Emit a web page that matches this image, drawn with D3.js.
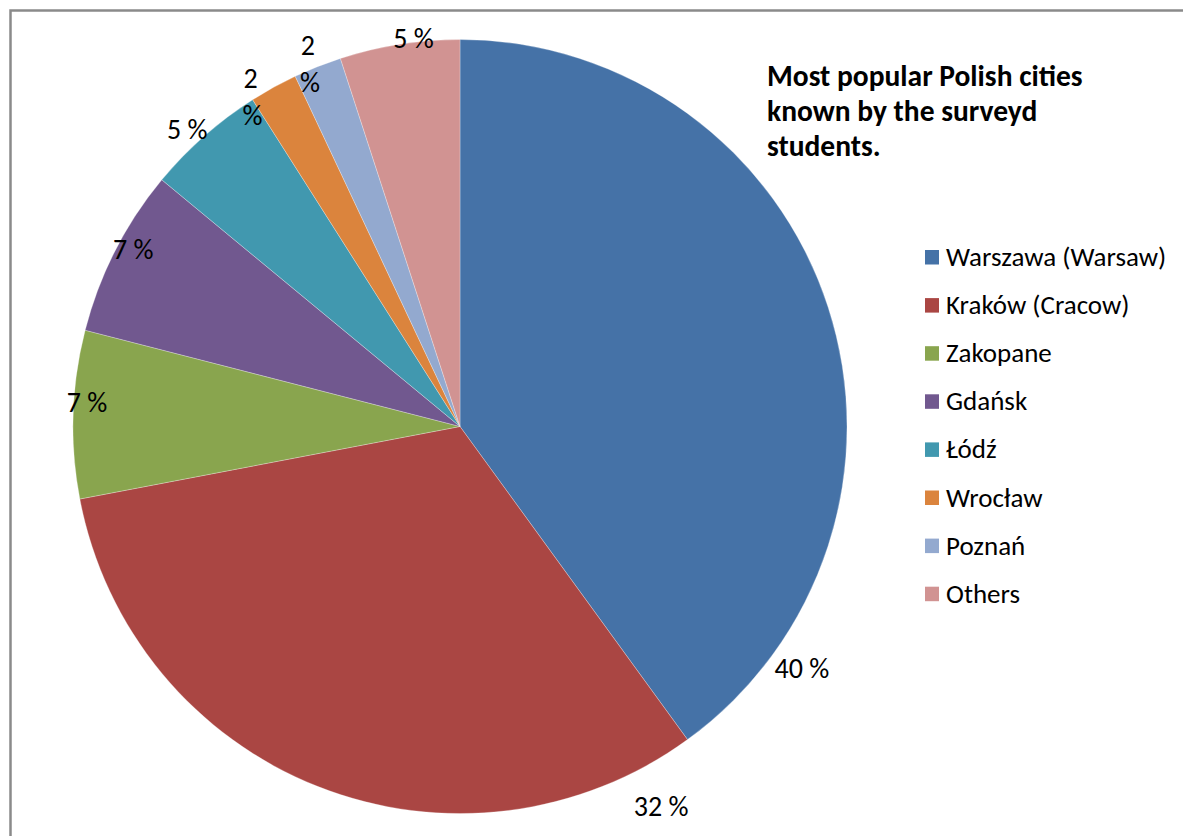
<!DOCTYPE html>
<html>
<head>
<meta charset="utf-8">
<script src="https://cdn.jsdelivr.net/npm/d3@7/dist/d3.min.js"></script>
<style>
  html, body { margin: 0; padding: 0; background: #fff; }
  svg { display: block; }
  text { font-family: Carlito, Lato, "Open Sans", sans-serif; fill: #000; }
</style>
</head>
<body>
<svg id="chart" width="1183" height="836"></svg>
<script>
// Survey results: share of students who named each Polish city
const cities = ["Warszawa (Warsaw)", "Kraków (Cracow)", "Zakopane", "Gdańsk", "Łódź", "Wrocław", "Poznań", "Others"];
const shares = [40, 32, 7, 7, 5, 2, 2, 5];
const colors = ["#4572A7", "#AA4643", "#89A54E", "#71588F", "#4198AF", "#DB843D", "#93A9CF", "#D19392"];
const titleLines = ["Most popular Polish cities", "known by the surveyd", "students."];

// Where each percentage label sits: fraction along its slice's angle, and radius factor
const labelAlong = [0.87, 0.07, 0.58, 0.56, 0.44, 0.0, 0.34, 0.62];
const labelRadius = [1.082, 1.109, 0.966, 0.961, 1.044, 1.01, 1.016, 1.011];

const svg = d3.select("#chart");
const W = 1183, H = 836;
const cx = 460, cy = 426.5, R = 387;

// Chart frame
svg.append("rect")
  .attr("x", 10.5).attr("y", 10.5)
  .attr("width", W + 20).attr("height", H + 20)
  .attr("fill", "#fff")
  .attr("stroke", "#8a8a8a")
  .attr("stroke-width", 2.5);

const color = d3.scaleOrdinal().domain(cities).range(colors);

const pie = d3.pie().sort(null).value(d => d.value);
const data = cities.map((c, i) => ({ city: c, value: shares[i], i }));
const arcs = pie(data);
const arc = d3.arc().innerRadius(0).outerRadius(R);

const g = svg.append("g").attr("transform", `translate(${cx},${cy})`);

g.selectAll("path.slice")
  .data(arcs)
  .join("path")
  .attr("class", "slice")
  .attr("d", arc)
  .attr("fill", d => color(d.data.city))
  .attr("stroke", "#ffffff")
  .attr("stroke-opacity", 0.35)
  .attr("stroke-width", 0.8);

// Percentage labels
const labelFs = 28;
const labels = g.selectAll("text.pct")
  .data(arcs)
  .join("text")
  .attr("class", "pct")
  .attr("text-anchor", "middle")
  .style("font-size", labelFs + "px")
  .attr("transform", d => {
    const i = d.data.i;
    const a = d.startAngle + (d.endAngle - d.startAngle) * labelAlong[i];
    const r = R * labelRadius[i];
    return `translate(${r * Math.sin(a)},${-r * Math.cos(a)})`;
  });

labels.each(function(d) {
  const t = d3.select(this);
  const v = d.data.value;
  if (v <= 2) {
    // narrow slices: value and sign on separate lines
    t.append("tspan").attr("x", 0).attr("y", -18.5 + 0.36 * labelFs).text(v);
    t.append("tspan").attr("x", 2).attr("y", 18.5 + 0.36 * labelFs).text("%");
  } else {
    t.append("tspan").attr("x", 0).attr("y", 0.36 * labelFs).text(v + " %");
  }
});

// Title
const title = svg.append("text")
  .attr("x", 768)
  .style("font-size", "29.5px")
  .style("font-weight", "bold");
titleLines.forEach((line, k) => {
  title.append("tspan").attr("x", 767).attr("y", 86 + k * 35).text(line);
});

// Legend
const legend = svg.append("g").attr("transform", "translate(925,265)");
const items = legend.selectAll("g.item")
  .data(cities)
  .join("g")
  .attr("class", "item")
  .attr("transform", (d, i) => `translate(0,${i * 48.1})`);
items.append("rect")
  .attr("x", 0).attr("y", -15)
  .attr("width", 14).attr("height", 14.5)
  .attr("fill", d => color(d));
items.append("text")
  .attr("x", 21).attr("y", 1)
  .style("font-size", "27px")
  .text(d => d);
</script>
</body>
</html>
